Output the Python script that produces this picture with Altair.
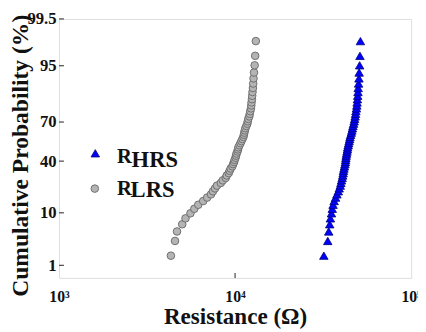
import altair as alt
import pandas as pd
from statistics import NormalDist

# cumulative probability (%) of each ranked sample
prob = [1.64, 3.28, 4.92, 6.56, 8.20, 9.84, 11.48, 13.11, 14.75, 16.39,
        18.03, 19.67, 21.31, 22.95, 24.59, 26.23, 27.87, 29.51, 31.15, 32.79,
        34.43, 36.07, 37.70, 39.34, 40.98, 42.62, 44.26, 45.90, 47.54, 49.18,
        50.82, 52.46, 54.10, 55.74, 57.38, 59.02, 60.66, 62.30, 63.93, 65.57,
        67.21, 68.85, 70.49, 72.13, 73.77, 75.41, 77.05, 78.69, 80.33, 81.97,
        83.61, 85.25, 86.89, 88.52, 90.16, 91.80, 93.44, 95.08, 96.72, 98.36]

# resistance (ohm), low resistance state
r_lrs = [4320, 4560, 4680, 5010, 5230, 5580, 5870, 6180, 6590, 6940,
         7300, 7490, 7690, 7890, 8300, 8520, 8850, 8970, 9200, 9320,
         9440, 9650, 9750, 9870, 9940, 10060, 10130, 10190, 10320, 10390,
         10450, 10590, 10730, 10870, 11010, 11150, 11220, 11290, 11360, 11440,
         11590, 11740, 11810, 11890, 12040, 12120, 12200, 12310, 12360, 12400,
         12470, 12510, 12560, 12630, 12680, 12730, 12810, 12920, 13010, 13120]

# resistance (ohm), high resistance state
r_hrs = [31930, 33610, 34040, 34480, 34790, 35280, 35650, 36020, 36530, 37240,
         37870, 38560, 39050, 39560, 39910, 40230, 40590, 40850, 41110, 41270,
         41540, 41810, 42080, 42340, 42460, 42610, 42780, 43000, 43220, 43440,
         43610, 43890, 44170, 44450, 44740, 44970, 45320, 45730, 46080, 46380,
         46730, 47100, 47460, 47770, 48080, 48330, 48570, 48890, 49140, 49320,
         49510, 49710, 49900, 50030, 50290, 50540, 50670, 51000, 51200, 51520]

y_ticks_pct = [1, 10, 40, 70, 95, 99.5]
x_ticks = [1000, 10000, 100000]

nd = NormalDist()
y_tick_z = [nd.inv_cdf(v / 100) for v in y_ticks_pct]
zlo, zhi = nd.inv_cdf(0.005), nd.inv_cdf(0.995)

df = pd.DataFrame({
    "R": r_lrs + r_hrs,
    "p": prob + prob,
    "s": ["LRS"] * len(r_lrs) + ["HRS"] * len(r_hrs),
})

FONT = "Liberation Serif"
W, H = 359, 264

xs = alt.Scale(type="log", domain=[1000, 100000])
ys = alt.Scale(domain=[zlo, zhi], nice=False, zero=False)

base = alt.Chart(df).transform_calculate(z="quantileNormal(datum.p/100)")

xaxis = alt.Axis(values=x_ticks, title="Resistance (Ω)", grid=False, ticks=False,
                 domain=False, labelFlush=False, labelOverlap=False, labelPadding=11,
                 labelExpr="datum.value == 1000 ? '10³' : datum.value == 10000 ? '10⁴' : '10⁵'",
                 labelFont=FONT, labelFontSize=16, labelFontWeight="bold", labelColor="#111",
                 titleFont=FONT, titleFontSize=23.5, titleFontWeight="bold", titleColor="#111",
                 titleBaseline="alphabetic", titleY=47)
yaxis = alt.Axis(values=y_tick_z, title="Cumulative Probability (%)", grid=False, ticks=False,
                 domain=False, labelFlush=False, labelOverlap=False, labelPadding=3,
                 labelExpr="round(cumulativeNormal(datum.value)*1000)/10",
                 labelFont=FONT, labelFontSize=17, labelFontWeight="bold", labelColor="#111",
                 titleFont=FONT, titleFontSize=24, titleFontWeight="bold", titleColor="#111",
                 titleAngle=270, titleBaseline="alphabetic", titleX=-32, titleY=139,
                 titleAlign="center")

lrs = base.transform_filter("datum.s == 'LRS'").mark_point(
    shape="circle", filled=True, size=60, fill="#b4b4b4", stroke="#6e6e6e", strokeWidth=1, opacity=1
).encode(x=alt.X("R:Q", scale=xs, axis=xaxis), y=alt.Y("z:Q", scale=ys, axis=yaxis))

hrs = base.transform_filter("datum.s == 'HRS'").mark_point(
    shape="triangle-up", filled=True, size=75, fill="#0000ff", stroke="#00007a", strokeWidth=0.8, opacity=1
).encode(x=alt.X("R:Q", scale=xs), y=alt.Y("z:Q", scale=ys))

# inward tick marks
xt = alt.Chart(pd.DataFrame({"v": [10000]})).mark_rule(color="#444", strokeWidth=1.2).encode(
    x=alt.X("v:Q", scale=xs), y=alt.value(H), y2=alt.value(H - 5))
yt = alt.Chart(pd.DataFrame({"v": y_tick_z})).mark_rule(color="#444", strokeWidth=1.2).encode(
    y=alt.Y("v:Q", scale=ys), x=alt.value(0), x2=alt.value(5))

# legend
leg = pd.DataFrame({"s": ["HRS", "LRS"]})
leg_tri = alt.Chart(leg).transform_filter("datum.s == 'HRS'").mark_point(
    shape="triangle-up", filled=True, size=75, fill="#0000ff", stroke="#00007a", strokeWidth=0.8, opacity=1
).encode(x=alt.value(37), y=alt.value(137))
leg_cir = alt.Chart(leg).transform_filter("datum.s == 'LRS'").mark_point(
    shape="circle", filled=True, size=60, fill="#b4b4b4", stroke="#6e6e6e", strokeWidth=1, opacity=1
).encode(x=alt.value(36.5), y=alt.value(173))

def txt(t, x, y, size):
    return alt.Chart(leg).transform_filter("datum.s == 'HRS'").mark_text(
        text=t, font=FONT, fontSize=size, fontWeight="bold", align="left",
        baseline="alphabetic", color="#111"
    ).encode(x=alt.value(x), y=alt.value(y))

labels = (txt("R", 59, 147, 21) + txt("HRS", 74, 151, 23)
          + txt("R", 59, 179, 21) + txt("LRS", 73, 182, 23))

chart = alt.layer(lrs, hrs, xt, yt, leg_tri, leg_cir, labels).properties(
    width=W, height=H,
    autosize=alt.AutoSizeParams(type="none"),
    padding={"left": 52, "top": 8, "right": 7, "bottom": 50},
).configure_view(stroke="#444", strokeWidth=1.5).configure(background="white")

chart.save("out.html", embed_options={"renderer": "svg", "actions": False})
